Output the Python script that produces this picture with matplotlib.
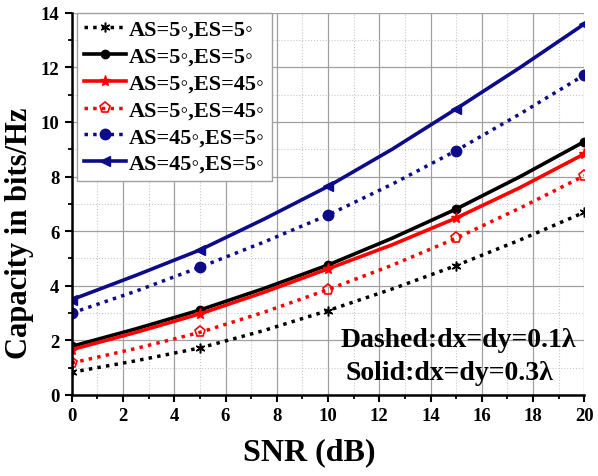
import matplotlib.pyplot as plt
import numpy as np

plt.rcParams['font.family'] = ['Liberation Serif', 'DejaVu Serif']
plt.rcParams['font.weight'] = 'bold'

snr = [0, 2.5, 5, 7.5, 10, 12.5, 15, 17.5, 20]

# dotted = dx=dy=0.1 lambda, solid = dx=dy=0.3 lambda
as5_es5_d = [0.83, 1.25, 1.72, 2.36, 3.09, 3.88, 4.74, 5.68, 6.69]
as5_es5_s = [1.78, 2.42, 3.11, 3.90, 4.76, 5.74, 6.81, 8.00, 9.28]
as5_es45_s = [1.66, 2.29, 2.97, 3.76, 4.62, 5.50, 6.48, 7.60, 8.83]
as5_es45_d = [1.17, 1.70, 2.29, 3.03, 3.86, 4.75, 5.74, 6.85, 8.03]
as45_es5_d = [3.00, 3.80, 4.68, 5.60, 6.59, 7.72, 8.95, 10.30, 11.72]
as45_es5_s = [3.49, 4.38, 5.31, 6.44, 7.64, 9.00, 10.48, 12.00, 13.59]

labels = ['AS=5◦,ES=5◦', 'AS=5◦,ES=5◦', 'AS=5◦,ES=45◦',
          'AS=5◦,ES=45◦', 'AS=45◦,ES=5◦', 'AS=45◦,ES=5◦']

navy = '#0c0c8a'
dots = (0, (1, 1.5))

fig = plt.figure(figsize=(5.98, 4.77), dpi=100)
ax = fig.add_axes([0.120, 0.170, 0.857, 0.801])

ax.plot(snr, as5_es5_d, color='black', ls=dots, lw=2.5, marker=(6, 2, 0),
        ms=7, mew=1.1, markevery=2, label=labels[0])
ax.plot(snr, as5_es5_s, color='black', ls='-', lw=2.6, marker='o',
        ms=6, markevery=2, label=labels[1])
ax.plot(snr, as5_es45_s, color='red', ls='-', lw=2.6, marker='*',
        ms=8, markevery=2, label=labels[2])
ax.plot(snr, as5_es45_d, color='red', ls=dots, lw=2.5, marker='p',
        ms=8, mfc='none', mew=1.2, markevery=2, label=labels[3])
ax.plot(snr, as45_es5_d, color=navy, ls=dots, lw=2.5, marker='o',
        ms=7.5, markevery=2, label=labels[4])
ax.plot(snr, as45_es5_s, color=navy, ls='-', lw=2.6, marker='<',
        ms=7, markevery=2, label=labels[5])

ax.set_xlim(0, 20)
ax.set_ylim(0, 14)
ax.set_xticks(np.arange(0, 21, 2))
ax.set_yticks(np.arange(0, 15, 2))
ax.set_xticks(np.arange(1, 20, 2), minor=True)
ax.set_yticks(np.arange(1, 14, 2), minor=True)
ax.grid(which='major', color='#a0a0a0', lw=0.9)
ax.grid(which='minor', color='#c8c8c8', lw=0.8, ls=':')
ax.set_axisbelow(True)

for s in ['top', 'right']:
    ax.spines[s].set_visible(False)
for s in ['left', 'bottom']:
    ax.spines[s].set_linewidth(1.8)

ax.tick_params(which='major', length=5, width=1.5, labelsize=13.5, pad=4)
ax.tick_params(which='minor', length=3, width=1.3)
for t in ax.get_xticklabels() + ax.get_yticklabels():
    t.set_fontweight('bold')

ax.set_xlabel('SNR (dB)', fontsize=23, fontweight='bold')
ax.set_ylabel('Capacity in bits/Hz', fontsize=22, fontweight='bold')
ax.xaxis.set_label_coords(0.464, -0.112)
ax.yaxis.set_label_coords(-0.074, 0.427)

leg = ax.legend(loc='upper left', bbox_to_anchor=(0.01, 1.0),
                prop={'weight': 'bold', 'size': 16,
                      'family': ['Liberation Serif', 'DejaVu Sans']},
                frameon=True, fancybox=False, framealpha=1, edgecolor='#a0a0a0',
                handlelength=1.9, handletextpad=0.15, labelspacing=0.28,
                borderpad=0.3, borderaxespad=0.0)
leg.get_frame().set_linewidth(1.0)

ax.text(0.524, 0.127, 'Dashed:dx=dy=0.1λ', transform=ax.transAxes,
        fontsize=20, fontweight='bold', clip_on=False)
ax.text(0.534, 0.041, 'Solid:dx=dy=0.3λ', transform=ax.transAxes,
        fontsize=20, fontweight='bold', clip_on=False)

fig.savefig('out.png', dpi=100)
